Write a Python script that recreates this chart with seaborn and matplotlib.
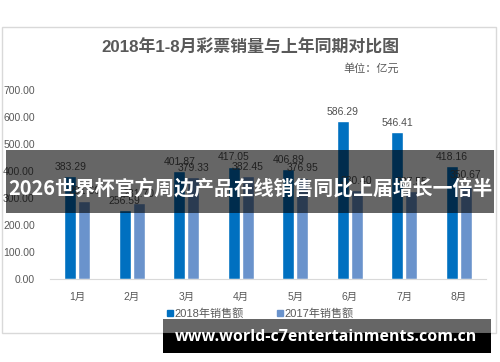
import pandas as pd
import matplotlib
matplotlib.use('Agg')
import matplotlib.pyplot as plt
import seaborn as sns
from matplotlib.patches import Rectangle

# Data
months = ['1月', '2月', '3月', '4月', '5月', '6月', '7月', '8月']
sales_2018 = [383.29, 256.59, 401.87, 417.05, 406.89, 586.29, 546.41, 418.16]
sales_2017 = [291.60, 281.70, 379.33, 382.45, 376.95, 330.40, 327.55, 350.67]
series_names = ['2018年销售额', '2017年销售额']
y_ticks = [0, 100, 200, 300, 400, 500, 600, 700]

df = pd.DataFrame({
    'month': months * 2,
    'value': sales_2018 + sales_2017,
    'series': [series_names[0]] * len(months) + [series_names[1]] * len(months),
})

sns.set_style('white')
plt.rcParams['font.family'] = ['Liberation Sans', 'Noto Sans CJK SC', 'DejaVu Sans']

fig = plt.figure(figsize=(5, 3.62), dpi=100)
fig.patch.set_facecolor('white')

# chart frame
fig.patches.append(Rectangle((0.004, 0.080), 0.988, 0.845, transform=fig.transFigure,
                             fill=False, edgecolor='#d9d9d9', linewidth=1.0, zorder=0))

ax = fig.add_axes([0.10, 0.228, 0.872, 0.523])
sns.barplot(data=df, x='month', y='value', hue='series', hue_order=series_names,
            palette=['#0070c0', '#6a93cc'], width=0.51, gap=0.14,
            saturation=1, legend=False, ax=ax)

for cont in ax.containers:
    ax.bar_label(cont, fmt='%.2f', padding=3, fontsize=7.5, color='#505050')

ax.set_ylim(0, 700)
ax.set_yticks(y_ticks)
ax.set_yticklabels([f'{v:.2f}' for v in y_ticks], fontsize=7.5, color='#595959')
ax.set_xlabel('')
ax.set_ylabel('')
ax.tick_params(axis='x', length=0, pad=9, labelsize=7.5, labelcolor='#595959')
ax.tick_params(axis='y', length=0, pad=11)
for side in ['top', 'right', 'left']:
    ax.spines[side].set_visible(False)
ax.spines['bottom'].set_color('#d9d9d9')
ax.set_xlim(-0.5, len(months) - 0.5)

fig.text(0.5, 0.868, '2018年1-8月彩票销量与上年同期对比图', ha='center', va='center',
         fontsize=12.2, color='#595959', fontweight='bold',
         family=['Liberation Sans', 'Noto Sans CJK SC'])
fig.text(0.798, 0.812, '单位：亿元', ha='right', va='center', fontsize=8, color='#595959',
         family=['Noto Sans CJK SC'])

# legend
handles = [plt.Line2D([], [], marker='s', linestyle='', markersize=4, color=c)
           for c in ['#0070c0', '#6a93cc']]
fig.legend(handles, series_names, loc='center', bbox_to_anchor=(0.52, 0.135), ncol=2,
           frameon=False, fontsize=8, labelcolor='#595959', handletextpad=0.05,
           columnspacing=3.0, handlelength=0.6)

# overlay banners
fig.patches.append(Rectangle((0.012, 0.4116), 0.976, 0.174, transform=fig.transFigure,
                             facecolor='black', alpha=0.6, edgecolor='none', zorder=5))
fig.text(0.5, 0.481, '2026世界杯官方周边产品在线销售同比上届增长一倍半', ha='center', va='center',
         fontsize=14.3, color='white', fontweight='bold', family=['Noto Sans CJK SC'], zorder=6)

fig.patches.append(Rectangle((0.326, 0.080), 0.656, 0.039, transform=fig.transFigure,
                             facecolor='black', alpha=0.6, edgecolor='none', zorder=5))
fig.patches.append(Rectangle((0.326, 0.025), 0.656, 0.055, transform=fig.transFigure,
                             facecolor='black', edgecolor='none', zorder=5))
fig.text(0.652, 0.069, 'www.world-c7entertainments.com.cn', ha='center', va='center',
         fontsize=11.5, color='white', fontweight='bold', family=['Open Sans'], zorder=6)

fig.savefig('out.png', dpi=100)
